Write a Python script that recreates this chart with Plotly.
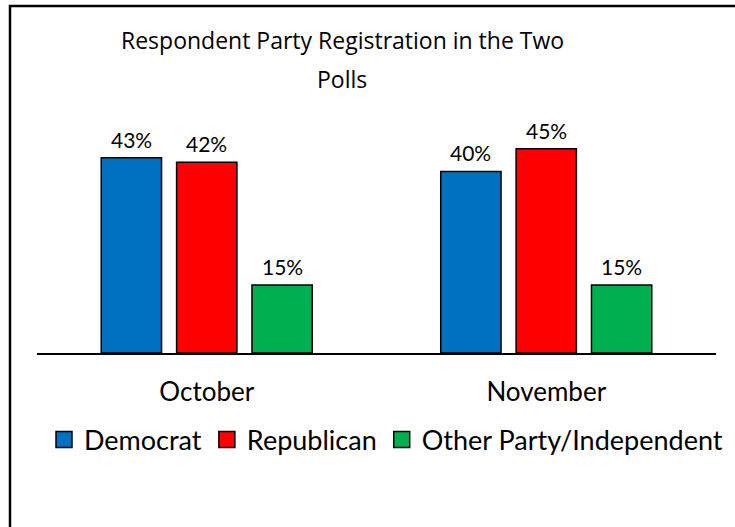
import plotly.graph_objects as go

categories = ["October", "November"]
series_names = ["Democrat", "Republican", "Other Party/Independent"]
democrat = [43, 40]
republican = [42, 45]
other = [15, 15]
colors = ["#0070C0", "#FF0000", "#00B050"]
title_lines = ["Respondent Party Registration in the Two", "Polls"]

series_values = [democrat, republican, other]

FONT = "Lato"
TITLE_FONT = "Open Sans"
W, H = 735, 527
ML, MR, MT, MB = 37, 19, 126, 174
BARGAP = 0.334
GROUPGAP = 0.2
plot_w = W - ML - MR
plot_h = H - MT - MB
base_px = H - MB


def py(px):
    return (base_px - px) / plot_h


def pxx(px):
    return (px - ML) / plot_w


fig = go.Figure()
for name, vals, col in zip(series_names, series_values, colors):
    fig.add_trace(go.Bar(
        x=categories, y=vals, name=name, showlegend=False,
        marker=dict(color=col, line=dict(color="black", width=1.5)),
    ))
# legend entries with square symbols
for name, col in zip(series_names, colors):
    fig.add_trace(go.Scatter(
        x=[None], y=[None], name=name, mode="markers",
        marker=dict(symbol="square", size=16, color=col,
                    line=dict(color="black", width=1.5)),
    ))

n = len(series_values)
slot = (1 - BARGAP) / n
annotations = []
for j, vals in enumerate(series_values):
    for i, v in enumerate(vals):
        annotations.append(dict(
            x=i + (j - (n - 1) / 2) * slot, y=v, xref="x", yref="y",
            text=f"{v}%", showarrow=False, yanchor="bottom", yshift=4,
            font=dict(family=FONT, size=21, color="#000000"),
        ))
for k, (line, ypx) in enumerate(zip(title_lines, [40, 79])):
    annotations.append(dict(
        x=pxx(342), y=py(ypx), xref="paper", yref="paper",
        text=line, showarrow=False, xanchor="center", yanchor="middle",
        font=dict(family=TITLE_FONT, size=23, color="#000000"),
    ))

fig.update_layout(
    width=W, height=H,
    margin=dict(l=ML, r=MR, t=MT, b=MB, pad=0),
    paper_bgcolor="white", plot_bgcolor="white",
    barmode="group", bargap=BARGAP, bargroupgap=GROUPGAP,
    xaxis=dict(showline=True, linecolor="#000000", linewidth=1.5,
               ticks="outside", ticklen=15, tickcolor="rgba(0,0,0,0)",
               tickfont=dict(family=FONT, size=26, color="#000000"),
               showgrid=False, zeroline=False, fixedrange=True),
    yaxis=dict(range=[0, 50], visible=False, showgrid=False, zeroline=False,
               fixedrange=True),
    legend=dict(orientation="h", x=pxx(386), xanchor="center",
                y=py(440), yanchor="middle", itemwidth=30,
                font=dict(family=FONT, size=27, color="#000000"),
                itemclick=False, traceorder="normal"),
    showlegend=True,
    annotations=annotations,
    shapes=[dict(type="rect", xref="paper", yref="paper",
                 x0=pxx(10), x1=1.2, y0=-1.0, y1=py(6),
                 line=dict(color="#000000", width=2.5), layer="below")],
)

fig.write_html("out.html")
